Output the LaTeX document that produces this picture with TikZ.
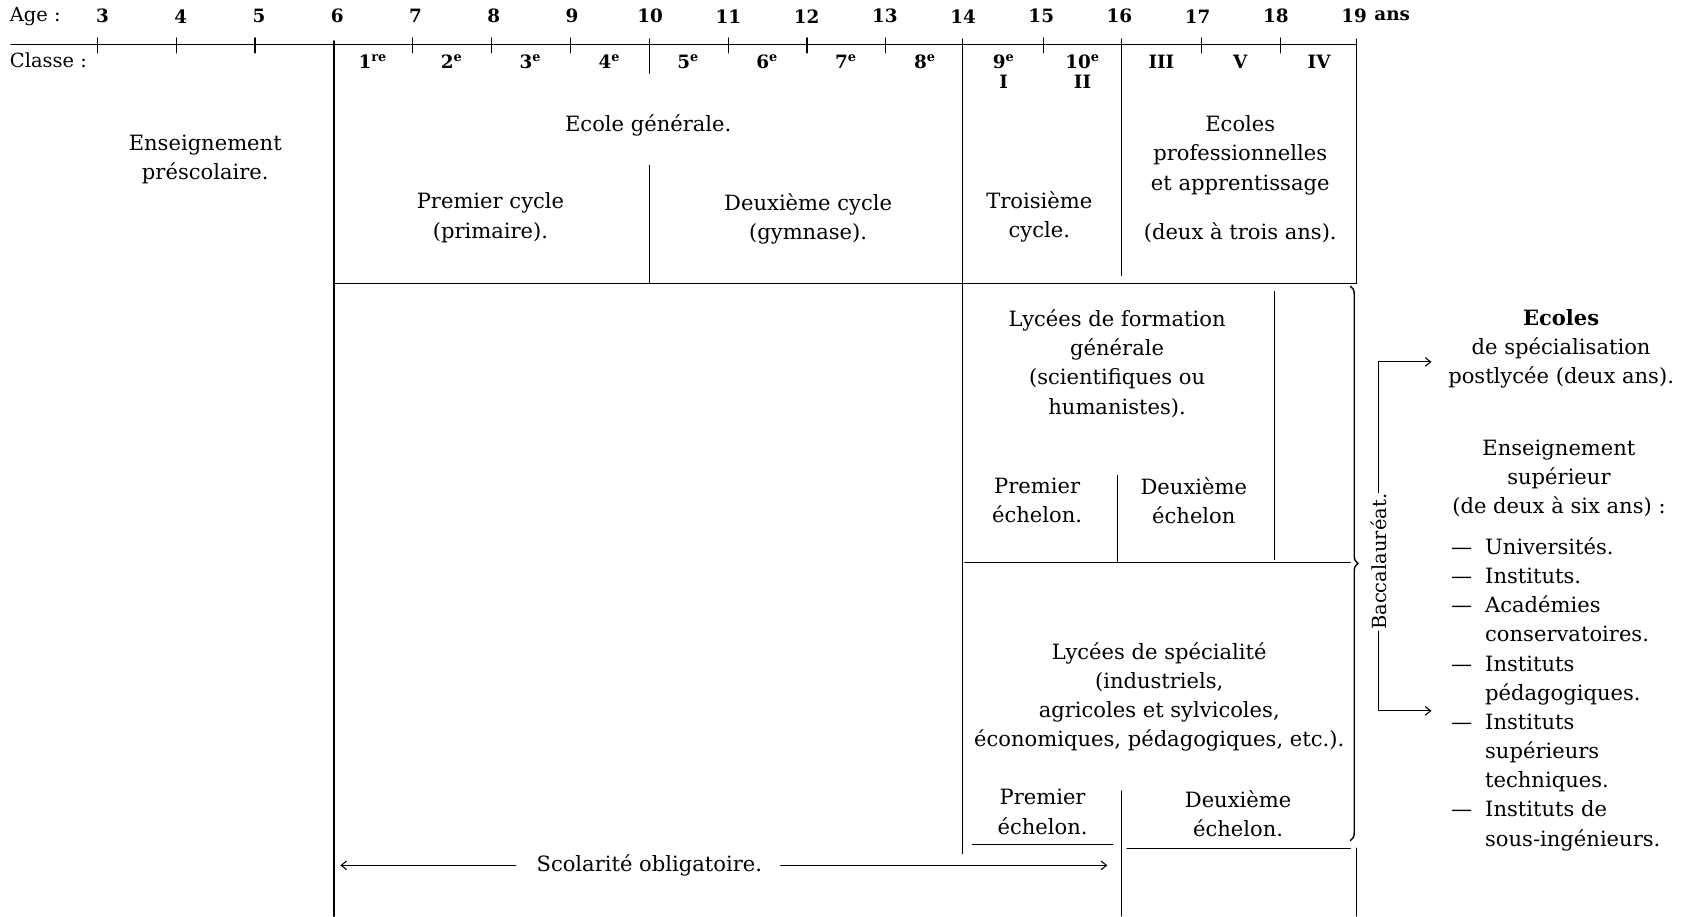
\documentclass[tikz,border=0pt]{standalone}
\usepackage{fontspec}
\setmainfont{DejaVu Serif}
\usetikzlibrary{decorations.pathreplacing,arrows.meta}
\begin{document}
\begin{tikzpicture}[x=1pt,y=-1pt, line join = round, line cap = round,>={Straight Barb[length=5pt,width=8pt]}]
	\tikzset{txt/.style={align=center,inner sep=1pt,font=\fontsize{19.5}{27}\selectfont},
		head/.style={inner sep=1pt,font=\fontsize{17}{20}\selectfont\bfseries},
		rule/.style={line width=1pt}, main/.style={line width=1.5pt}}
	\useasboundingbox (0,0) rectangle (1568,848);
	% ages et classes
	\node[head,anchor=west,font=\fontsize{18}{20}\selectfont] (age) at (8,15) {Age :};
	\node[head,anchor=west,font=\fontsize{18}{20}\selectfont] (classe) at (8,56) {Classe :};
	\foreach \a in {3,...,19} \node[head] (a\a) at ({95+(\a-3)*72.4},15) {\a};
	\node[head,anchor=west] (ans) at (1271,15) {ans};
	\draw[rule] (10,41) -- (1256,41);
	\foreach \a in {3,4,5,7,8,9,11,12,13,15,17,18} \draw[rule] ({309+(\a-6)*73},35) -- ++(0,14);
	\foreach \a/\c in {6/1\textsuperscript{re},7/2\textsuperscript{e},8/3\textsuperscript{e},9/4\textsuperscript{e},10/5\textsuperscript{e},11/6\textsuperscript{e},12/7\textsuperscript{e},13/8\textsuperscript{e},14/9\textsuperscript{e},15/10\textsuperscript{e},16/III,17/V,18/IV}
	\node[head] (c\a) at ({309+(\a-6)*73+36},57) {\c};
	\node[head] (rI) at (c14 |- 0,76) {I};
	\node[head] (rII) at (c15 |- 0,76) {II};
	% traits verticaux
	\draw[main] (309,38) -- (309,848);
	\draw[rule] (601,36) -- (601,68) (601,153) -- (601,262);
	\draw[rule] (891,36) -- (891,790);
	\draw[rule] (1038,36) -- (1038,255) (1038,732) -- (1038,848);
	\draw[rule] (1256,36) -- (1256,262) (1256,785) -- (1256,848);
	\draw[rule] (1180,270) -- (1180,518) (1034,440) -- (1034,520);
	% traits horizontaux
	\draw[rule] (309,262) -- (1256,262);
	\draw[rule] (893,521) -- (1250,521);
	\draw[rule] (900,782) -- (1030,782) (1043,785) -- (1250,785);
	\draw[decorate,decoration={brace,amplitude=7pt},line width=1.3pt] (1250,265) -- (1250,778);
	% textes
	\node[txt] (pre) at (190,147.5) {Enseignement\\préscolaire.};
	\node[txt] (gen) at (600,116) {Ecole générale.};
	\node[txt] (cyc1) at (454,201.5) {Premier cycle\\(primaire).};
	\node[txt] (cyc2) at (748,202.5) {Deuxième cycle\\(gymnase).};
	\node[txt] (cyc3) at (962,200.5) {Troisième\\cycle.};
	\node[txt] (pro) at (1148,166) {Ecoles\\professionnelles\\et apprentissage\\[19pt](deux à trois ans).};
	\node[txt] (lycg) at (1034,336.5) {Lycées de formation\\générale\\(scientifiques ou\\humanistes).};
	\node[txt] (ech1) at (960,463) {Premier\\échelon.};
	\node[txt] (ech2) at (1105,463.5) {Deuxième\\échelon};
	\node[txt] (lycs) at (1073,645) {Lycées de spécialité\\(industriels,\\agricoles et sylvicoles,\\économiques, pédagogiques, etc.).};
	\node[txt] (ech3) at (965,751.5) {Premier\\échelon.};
	\node[txt] (ech4) at (1146,753.5) {Deuxième\\échelon.};
	\node[txt] (scol) at (601,801) {Scolarité obligatoire.};
	\coordinate (scolL) at (315,801);
	\coordinate (scolR) at (1025,801);
	\draw[rule,->,shorten <=18pt] (scol.west) -- (scolL);
	\draw[rule,->,shorten <=16pt] (scol.east) -- (scolR);
	% baccalaureat
	\node[txt,rotate=90,font=\fontsize{18}{20}\selectfont] (bacc) at (1276,520) {Baccalauréat.};
	\node[txt] (ecoles) at (1445,323) {\textbf{Ecoles}\\de spécialisation\\postlycée (deux ans).};
	\node[txt] (ens) at (1443,443) {Enseignement\\supérieur\\(de deux à six ans) :};
	\node[txt,anchor=north west,inner sep=0pt] (liste) at (1343,494) {\begin{tabular}{@{}l@{\hspace{12pt}}l@{}}
		— & Universités.\\ — & Instituts.\\ — & Académies\\ & conservatoires.\\
		— & Instituts\\ & pédagogiques.\\ — & Instituts\\ & supérieurs\\ & techniques.\\
		— & Instituts de\\ & sous-ingénieurs.\end{tabular}};
	\coordinate (spec) at (1325,335);
	\coordinate (sup) at (1325,658);
	\draw[rule,->] (bacc.east) |- (spec);
	\draw[rule,->] (bacc.west) |- (sup);
\end{tikzpicture}
\end{document}
